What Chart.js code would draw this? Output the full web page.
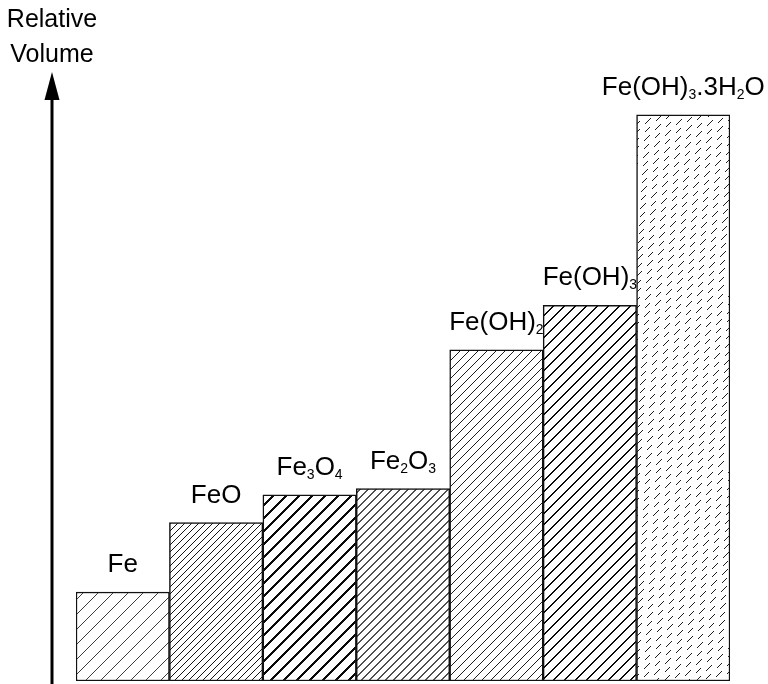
<!DOCTYPE html>
<html><head><meta charset="utf-8">
<script src="https://cdn.jsdelivr.net/npm/chart.js@4"></script>
<style>html,body{margin:0;padding:0;background:#fff}#wrap{width:768px;height:684px}</style>
</head><body><div id="wrap"><canvas id="c" width="768" height="684"></canvas></div>
<script>
const categories = ['Fe', 'FeO', 'Fe3O4', 'Fe2O3', 'Fe(OH)2', 'Fe(OH)3', 'Fe(OH)3.3H2O'];
const relativeVolume = [1, 1.78, 2.09, 2.16, 3.72, 4.22, 6.36];
const labelParts = [
  [['Fe', 0]],
  [['FeO', 0]],
  [['Fe', 0], ['3', 1], ['O', 0], ['4', 1]],
  [['Fe', 0], ['2', 1], ['O', 0], ['3', 1]],
  [['Fe(OH)', 0], ['2', 1]],
  [['Fe(OH)', 0], ['3', 1]],
  [['Fe(OH)', 0], ['3', 1], ['.3H', 0], ['2', 1], ['O', 0]]
];
const axisTitle = ['Relative', 'Volume'];

const FONT = '"Liberation Sans", Arial, sans-serif';
const W = 768, H = 684;

function gen(fn, rgb) {
  const c = document.createElement('canvas');
  c.width = W; c.height = H;
  const x = c.getContext('2d');
  const img = x.createImageData(W, H);
  const d = img.data;
  for (let py = 0; py < H; py++) {
    for (let px = 0; px < W; px++) {
      const i = (py * W + px) * 4;
      const on = fn(px, py);
      d[i] = on ? rgb : 255; d[i + 1] = on ? rgb : 255; d[i + 2] = on ? rgb : 255; d[i + 3] = 255;
    }
  }
  x.putImageData(img, 0, 0);
  return x.createPattern(c, 'no-repeat');
}
const mod = (a, b) => ((a % b) + b) % b;
function hatch(s, w, rgb) { return gen((x, y) => mod(x + y, s) < w, rgb); }
function dashed() {
  return gen((x, y) => {
    const s = 8;
    if (mod(x + y, s) !== 0) return false;
    const k = Math.floor((x + y) / s);
    const t = mod(x - y + k * 9, 22);
    return t < 11;
  }, 30);
}
const patterns = [
  hatch(15, 1, 60),
  hatch(7, 1, 20),
  hatch(13, 3, 10),
  hatch(8, 2, 80),
  hatch(9, 1, 30),
  hatch(11, 2, 10),
  dashed()
];

const decor = {
  id: 'decor',
  afterDatasetsDraw(chart) {
    const ctx = chart.ctx;
    const meta = chart.getDatasetMeta(0);
    const big = 26, small = 14;
    ctx.save();
    ctx.fillStyle = '#000';
    ctx.textBaseline = 'alphabetic';
    ctx.textAlign = 'left';
    meta.data.forEach((el, i) => {
      const parts = labelParts[i];
      let total = 0;
      parts.forEach(([t, s]) => { ctx.font = (s ? small : big) + 'px ' + FONT; total += ctx.measureText(t).width; });
      let xx = el.x - total / 2;
      const yb = el.y - 20;
      parts.forEach(([t, s]) => {
        ctx.font = (s ? small : big) + 'px ' + FONT;
        ctx.fillText(t, xx, s ? yb + 4 : yb);
        xx += ctx.measureText(t).width;
      });
    });
    const ax = chart.chartArea.left - 24;
    ctx.strokeStyle = '#000'; ctx.lineWidth = 3;
    ctx.beginPath(); ctx.moveTo(ax, chart.height); ctx.lineTo(ax, chart.chartArea.top + 26); ctx.stroke();
    ctx.beginPath();
    ctx.moveTo(ax, chart.chartArea.top);
    ctx.lineTo(ax - 7.5, chart.chartArea.top + 28);
    ctx.lineTo(ax + 7.5, chart.chartArea.top + 28);
    ctx.closePath(); ctx.fill();
    ctx.font = '25px ' + FONT;
    ctx.textAlign = 'center';
    ctx.fillText(axisTitle[0], ax, 27);
    ctx.fillText(axisTitle[1], ax, 62);
    ctx.restore();
  }
};

new Chart(document.getElementById('c'), {
  type: 'bar',
  data: {
    labels: categories,
    datasets: [{
      data: relativeVolume,
      backgroundColor: patterns,
      borderColor: '#111',
      borderWidth: 1.5,
      borderSkipped: false,
      categoryPercentage: 1,
      barPercentage: 1
    }]
  },
  options: {
    responsive: false,
    animation: false,
    devicePixelRatio: 1,
    layout: { padding: { top: 72, bottom: 3, left: 76, right: 38 } },
    plugins: { legend: { display: false }, tooltip: { enabled: false } },
    scales: {
      x: { display: false },
      y: { display: false, min: 0, max: 6.84 }
    }
  },
  plugins: [decor]
});
</script>
</body></html>
